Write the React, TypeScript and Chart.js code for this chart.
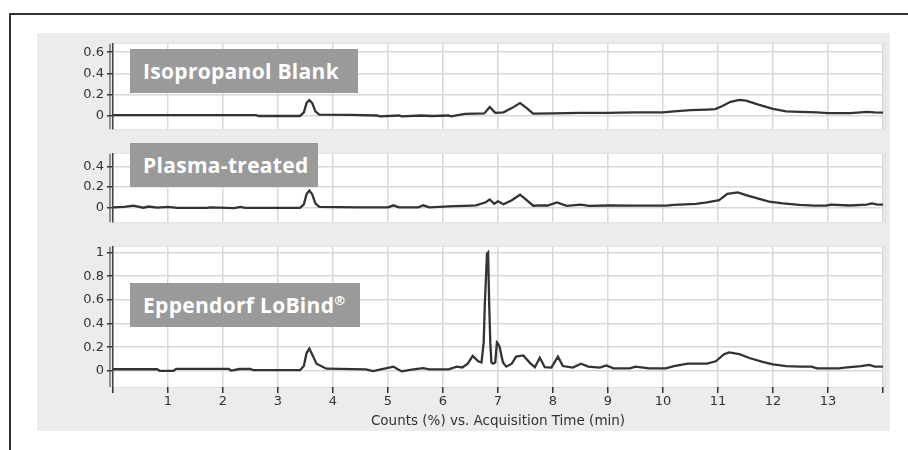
import React, { useEffect, useRef } from "react";
import { Chart, registerables } from "chart.js";

Chart.register(...registerables);

// ---------- data (time in min, counts in %) ----------
const blankPoints: number[][] = [
  [0, 0.004], [2.6, 0.004], [2.65, -0.005], [3.4, -0.005], [3.47, 0.03], [3.52, 0.12], [3.57, 0.145],
  [3.62, 0.12], [3.68, 0.04], [3.75, 0.008], [4.3, 0.005], [4.8, 0.0], [4.85, -0.008], [5.2, 0.0],
  [5.25, -0.008], [5.6, 0.0], [5.8, -0.005], [6.1, 0.0], [6.15, -0.008], [6.4, 0.015], [6.75, 0.02],
  [6.85, 0.08], [6.95, 0.025], [7.1, 0.03], [7.25, 0.07], [7.4, 0.118], [7.5, 0.08], [7.64, 0.018],
  [8.0, 0.02], [8.5, 0.025], [9.0, 0.025], [9.5, 0.03], [10.0, 0.03], [10.2, 0.04], [10.5, 0.05],
  [10.8, 0.056], [10.95, 0.06], [11.08, 0.09], [11.23, 0.13], [11.39, 0.148], [11.51, 0.14],
  [11.75, 0.1], [12.0, 0.062], [12.24, 0.04], [12.5, 0.035], [12.8, 0.03], [13.0, 0.022],
  [13.2, 0.022], [13.4, 0.022], [13.6, 0.03], [13.7, 0.035], [13.85, 0.03], [14, 0.028],
];

const plasmaPoints: number[][] = [
  [0, 0.0], [0.2, 0.005], [0.37, 0.016], [0.55, -0.004], [0.65, 0.008], [0.8, -0.002], [1.0, 0.005],
  [1.17, -0.005], [1.7, -0.005], [1.77, 0.0], [2.2, -0.008], [2.32, 0.004], [2.4, -0.005], [3.4, -0.005],
  [3.47, 0.03], [3.52, 0.13], [3.57, 0.165], [3.62, 0.13], [3.68, 0.04], [3.75, 0.004], [4.5, 0.0],
  [5.0, 0.0], [5.1, 0.02], [5.2, 0.0], [5.55, 0.0], [5.64, 0.02], [5.75, 0.0], [6.2, 0.012], [6.4, 0.015],
  [6.6, 0.02], [6.78, 0.05], [6.85, 0.078], [6.93, 0.035], [7.0, 0.06], [7.1, 0.03], [7.25, 0.07],
  [7.4, 0.124], [7.5, 0.08], [7.64, 0.016], [7.77, 0.02], [7.9, 0.018], [8.07, 0.048], [8.25, 0.015],
  [8.5, 0.027], [8.66, 0.015], [9.0, 0.018], [9.5, 0.016], [10.06, 0.016], [10.2, 0.024], [10.6, 0.035],
  [10.8, 0.049], [11.02, 0.07], [11.17, 0.132], [11.36, 0.146], [11.51, 0.12], [11.75, 0.084],
  [11.93, 0.057], [12.18, 0.038], [12.48, 0.024], [12.75, 0.016], [12.97, 0.016], [13.05, 0.026],
  [13.4, 0.018], [13.7, 0.026], [13.8, 0.038], [13.9, 0.027], [14, 0.027],
];

const lobindPoints: number[][] = [
  [0, 0.013], [0.8, 0.013], [0.85, 0.0], [1.1, 0.0], [1.15, 0.016], [2.1, 0.016], [2.15, 0.002],
  [2.3, 0.015], [2.5, 0.015], [2.55, 0.005], [3.4, 0.005], [3.47, 0.04], [3.52, 0.15], [3.57, 0.188],
  [3.62, 0.14], [3.7, 0.06], [3.88, 0.018], [4.6, 0.012], [4.73, -0.003], [4.85, 0.01], [5.1, 0.035],
  [5.25, -0.005], [5.4, 0.008], [5.64, 0.022], [5.75, 0.012], [6.1, 0.012], [6.25, 0.035], [6.35, 0.028],
  [6.45, 0.06], [6.54, 0.126], [6.64, 0.08], [6.7, 0.07], [6.74, 0.24], [6.76, 0.56], [6.8, 0.99],
  [6.82, 1.0], [6.84, 0.56], [6.86, 0.24], [6.88, 0.07], [6.91, 0.06], [6.95, 0.07], [6.98, 0.24],
  [7.0, 0.23], [7.03, 0.2], [7.09, 0.07], [7.15, 0.035], [7.25, 0.06], [7.33, 0.12], [7.46, 0.13],
  [7.58, 0.067], [7.67, 0.03], [7.76, 0.11], [7.85, 0.03], [7.97, 0.027], [8.09, 0.12], [8.18, 0.04],
  [8.36, 0.027], [8.51, 0.06], [8.64, 0.035], [8.85, 0.027], [8.97, 0.045], [9.1, 0.02], [9.4, 0.02],
  [9.5, 0.035], [9.75, 0.02], [10.05, 0.02], [10.2, 0.04], [10.45, 0.06], [10.8, 0.06], [10.96, 0.08],
  [11.11, 0.14], [11.2, 0.156], [11.39, 0.14], [11.57, 0.108], [11.81, 0.075], [12.0, 0.054],
  [12.24, 0.04], [12.5, 0.035], [12.7, 0.035], [12.8, 0.02], [13.2, 0.02], [13.3, 0.027], [13.6, 0.04],
  [13.75, 0.05], [13.85, 0.035], [14, 0.035],
];

const xTickValues = [0, 1, 2, 3, 4, 5, 6, 7, 8, 9, 10, 11, 12, 13, 14];
const blankYTicks = [0, 0.2, 0.4, 0.6];
const plasmaYTicks = [0, 0.2, 0.4];
const lobindYTicks = [0, 0.2, 0.4, 0.6, 0.8, 1];
const panelLabels = ["Isopropanol Blank", "Plasma-treated", "Eppendorf LoBind"];
const xTitle = "Counts (%) vs. Acquisition Time (min)";

const TICK_FONT = { family: "DejaVu Sans", size: 13 };
const GRID = "#d8d8d8";

const bgPlugin = {
  id: "plotBg",
  beforeDraw(chart: any) {
    const { ctx, chartArea: a } = chart;
    ctx.save();
    ctx.fillStyle = "#ffffff";
    ctx.fillRect(a.left, a.top, a.right - a.left, a.bottom - a.top);
    ctx.strokeStyle = "#e0e0e0";
    ctx.lineWidth = 1;
    ctx.strokeRect(a.left - 0.5, a.top - 0.5, a.right - a.left + 3, a.bottom - a.top + 1);
    ctx.restore();
  },
  afterDraw(chart: any) {
    const { ctx, chartArea: a } = chart;
    ctx.save();
    ctx.strokeStyle = "#555";
    ctx.lineWidth = 1.2;
    ctx.beginPath();
    ctx.moveTo(a.left - 3, a.top);
    ctx.lineTo(a.left - 3, a.bottom);
    ctx.stroke();
    ctx.restore();
  },
};

function fmt(v: number) {
  return String(Math.round(v * 10) / 10);
}

function makeConfig(
  points: number[][],
  yMin: number,
  yMax: number,
  yTicks: number[],
  bottom: boolean,
  padTop: number,
  padBottom: number
): any {
  return {
    type: "line",
    data: {
      datasets: [
        {
          data: points.map(([x, y]) => ({ x, y })),
          borderColor: "#333333",
          borderWidth: 2.3,
          pointRadius: 0,
          tension: 0,
          fill: false,
        },
      ],
    },
    options: {
      responsive: false,
      animation: false,
      devicePixelRatio: 1,
      layout: { padding: { top: padTop, bottom: padBottom, left: 0, right: 7 } },
      plugins: { legend: { display: false }, tooltip: { enabled: false }, title: { display: false } },
      scales: {
        x: {
          type: "linear",
          min: 0,
          max: 14,
          afterBuildTicks: (s: any) => {
            s.ticks = xTickValues.map((v) => ({ value: v }));
          },
          ticks: {
            display: bottom,
            autoSkip: false,
            maxRotation: 0,
            padding: 1,
            color: "#333",
            font: TICK_FONT,
            callback: (v: any) => (v >= 1 && v <= 13 ? String(v) : ""),
          },
          grid: {
            color: GRID,
            lineWidth: 1.5,
            drawTicks: bottom,
            tickLength: 6,
            tickColor: "#333",
            tickWidth: 1.5,
          },
          border: { display: false },
          title: {
            display: bottom,
            text: xTitle,
            color: "#333",
            font: { family: "DejaVu Sans", size: 13.5 },
            padding: { top: 0, bottom: 3 },
          },
          afterFit: (s: any) => {
            s.height = bottom ? 46 : 0;
          },
        },
        y: {
          min: yMin,
          max: yMax,
          afterBuildTicks: (s: any) => {
            s.ticks = yTicks.map((v) => ({ value: v }));
          },
          ticks: {
            color: "#333",
            font: TICK_FONT,
            padding: 3,
            callback: (v: any) => fmt(v),
          },
          grid: {
            color: GRID,
            lineWidth: 1.5,
            tickLength: 6,
            tickColor: "#333",
            tickWidth: 1.5,
          },
          border: { color: "#444", width: 1.5 },
          afterFit: (s: any) => {
            s.width = 76;
          },
        },
      },
    },
    plugins: [bgPlugin],
  };
}

const boxStyle = (top: number, width: number): React.CSSProperties => ({
  position: "absolute",
  left: 130,
  top,
  width,
  height: 44,
  background: "#9a9a9a",
  color: "#ffffff",
  fontFamily: "'Open Sans', sans-serif",
  fontWeight: 700,
  fontSize: 21,
  letterSpacing: 0.3,
  lineHeight: "44px",
  paddingLeft: 13,
  boxSizing: "border-box",
  whiteSpace: "nowrap",
  overflow: "hidden",
});

export default function App() {
  const r1 = useRef<HTMLCanvasElement>(null);
  const r2 = useRef<HTMLCanvasElement>(null);
  const r3 = useRef<HTMLCanvasElement>(null);

  useEffect(() => {
    const charts = [
      new Chart(r1.current as HTMLCanvasElement, makeConfig(blankPoints, -0.13, 0.68, blankYTicks, false, 4, 3)),
      new Chart(r2.current as HTMLCanvasElement, makeConfig(plasmaPoints, -0.146, 0.526, plasmaYTicks, false, 4, 3)),
      new Chart(r3.current as HTMLCanvasElement, makeConfig(lobindPoints, -0.137, 1.048, lobindYTicks, true, 4, 0)),
    ];
    return () => charts.forEach((c) => c.destroy());
  }, []);

  const canvasStyle = (top: number, h: number): React.CSSProperties => ({
    position: "absolute",
    left: 37,
    top,
    width: 853,
    height: h,
  });

  return (
    <div style={{ position: "absolute", left: 0, top: 0, width: 908, height: 450, background: "#fff", overflow: "hidden" }}>
      <div
        style={{
          position: "absolute",
          left: 9,
          top: 13,
          width: 905,
          height: 445,
          borderTop: "2px solid #333",
          borderLeft: "2px solid #333",
        }}
      />
      <div style={{ position: "absolute", left: 37, top: 33, width: 853, height: 398, background: "#ececec" }} />
      <canvas ref={r1} width={853} height={107} style={canvasStyle(33, 107)} />
      <canvas ref={r2} width={853} height={90} style={canvasStyle(143, 90)} />
      <canvas ref={r3} width={853} height={197} style={canvasStyle(236, 197)} />
      <div style={boxStyle(49, 228)}>{panelLabels[0]}</div>
      <div style={boxStyle(143, 188)}>{panelLabels[1]}</div>
      <div style={boxStyle(283, 230)}>
        {panelLabels[2]}
        <sup style={{ fontSize: 13, lineHeight: 0, verticalAlign: "8px" }}>®</sup>
      </div>
    </div>
  );
}
